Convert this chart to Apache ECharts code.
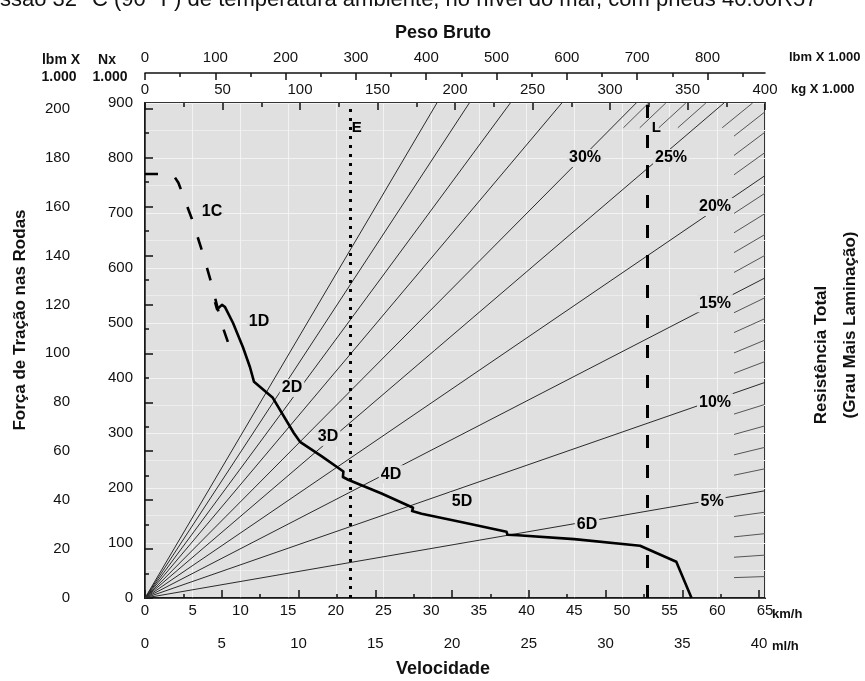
<!DOCTYPE html>
<html><head><meta charset="utf-8">
<script src="https://cdn.jsdelivr.net/npm/echarts@6/dist/echarts.min.js"></script>
<style>html,body{margin:0;padding:0;background:#fff}#c{width:865px;height:681px}</style>
</head><body><div id="c"></div>
<script>
// ---------- axis ticks ----------
const kmhMin = 0, kmhMax = 65, kmhStep = 5;
const mphMajor = [0,5,10,15,20,25,30,35,40];
const mphMinor = [2.5,7.5,12.5,17.5,22.5,27.5,32.5,37.5];
const kgMin = 0, kgMax = 400, kgStep = 50;
const lbmMajor = [0,100,200,300,400,500,600,700,800];
const lbmMinor = [50,150,250,350,450,550,650,750,850];
const nxMin = 0, nxMax = 900, nxStep = 100;
const lbfMajor = [0,20,40,60,80,100,120,140,160,180,200];
const lbfMinor = [10,30,50,70,90,110,130,150,170,190];

// ---------- rimpull curve (km/h, kN) ----------
const rimpullKmh = [7.34, 7.55, 8.07, 8.39, 9.23, 10.27, 11.0, 11.43, 13.4, 15.6, 16.25, 18.5, 20.8, 20.75, 21.3, 24.8, 28.1, 28.0, 29.0, 33.5, 37.9, 38.0, 39.1, 45.0, 51.9, 55.7, 57.3];
const rimpullKN  = [538, 525, 533, 529, 500, 456, 420, 393, 364, 300, 284, 258, 230, 220, 215, 190, 164, 158, 153, 137, 120.5, 115, 114, 107, 95, 66, 0];
// converter drive 1C (dashed)
const conv1Kmh = [0, 2.9, 3.5, 4.9, 6.0, 7.0, 8.0, 8.7];
const conv1KN  = [771, 771, 755, 690, 630, 570, 500, 465];

// ---------- total resistance (grade) lines: exit point of each line ----------
const gradeNames   = ['5%','10%','15%','20%','25%','30%','35%','40%','45%','50%'];
const gradeExitKmh = [65, 65, 65, 65, 60.7, 51.5, 43.7, 38.3, 34.0, 30.6];
const gradeExitKN  = [195, 392, 582, 768, 900, 900, 900, 900, 900, 900];
const gradeLabelNames = ['5%','10%','15%','20%','25%','30%'];
const gradeLabelKmh = [59.45, 59.76, 59.76, 59.76, 55.15, 46.13];
const gradeLabelKN  = [176, 356, 536, 711, 800, 800];

// short 1% hatch marks at the plot edge (exit points)
const hatchExitKmh = [65,65,65,65, 65,65,65,65, 65,65,65,65, 65,65,65,65, 65,65,65, 63.7, 58.8, 56.7, 54.6, 52.8];
const hatchExitKN  = [39,78,117,156, 235,274,313,352, 430,469,508,546, 623,661,699,736, 810,847,884, 900, 900, 900, 900, 900];

// ---------- reference lines ----------
const refNames = ['E','L'];
const refKmh = [21.5, 52.7];
const refLabelKmh = [22.2, 53.6];
const refLabelKN = [855, 855];

// ---------- gear labels ----------
const gearNames = ['1C','1D','2D','3D','4D','5D','6D'];
const gearLabelKmh = [7.02, 11.95, 15.41, 19.19, 25.79, 33.24, 46.34];
const gearLabelKN  = [702, 502, 382, 293, 225, 176, 133];

// ---------- build ----------
const FONT = '"Liberation Sans Narrow","Liberation Sans",Arial,sans-serif';
const BFONT = '"Liberation Sans",Arial,sans-serif';
const BG = '#e0e0e0';
const INK = '#111';
const tickLbl = {fontSize: 15, color: INK, fontFamily: FONT};

const zip = (a, b) => a.map((v, i) => [v, b[i]]);

const gradeLines = gradeExitKmh.map((x, i) => ({coords: [[0, 0], [x, gradeExitKN[i]]]}));
const hatchLines = hatchExitKmh.map((x, i) => ({coords: [[x * 0.95, hatchExitKN[i] * 0.95], [x, hatchExitKN[i]]]}));
const refLines = refKmh.map(x => ({coords: [[x, 0], [x, nxMax]]}));

const labelStyle = (size, bg) => ({
  show: true, position: 'inside', formatter: p => p.data[2],
  fontFamily: BFONT, fontWeight: 'bold', fontSize: size, color: '#000',
  backgroundColor: bg, padding: [1, 2]
});

const chart = echarts.init(document.getElementById('c'), null, {renderer: 'canvas'});
chart.setOption({
  animation: false,
  backgroundColor: '#fff',
  grid: {left: 145, right: 100, top: 103, bottom: 83, show: true, backgroundColor: BG, borderColor: '#333', borderWidth: 2},
  xAxis: [
    {type: 'value', position: 'bottom', min: kmhMin, max: kmhMax, interval: kmhStep,
     axisLine: {show: false}, axisTick: {show: false},
     axisLabel: Object.assign({margin: 5}, tickLbl),
     splitLine: {show: true, lineStyle: {color: '#f3f3f3', width: 1}}},
    {type: 'value', position: 'bottom', offset: 33, min: 0, max: kmhMax / 1.609344,
     axisLine: {show: true, lineStyle: {color: INK, width: 1.5}},
     axisTick: {show: true, inside: true, length: 8, customValues: mphMajor, lineStyle: {color: INK, width: 1.5}},
     axisLabel: Object.assign({margin: 5, customValues: mphMajor}, tickLbl), splitLine: {show: false}},
    {type: 'value', position: 'bottom', offset: 33, min: 0, max: kmhMax / 1.609344,
     axisLine: {show: false},
     axisTick: {show: true, inside: true, length: 4, customValues: mphMinor, lineStyle: {color: INK, width: 1.5}},
     axisLabel: {show: false}, splitLine: {show: false}},
    {type: 'value', position: 'top', offset: 0, min: kgMin, max: kgMax, interval: kgStep,
     axisLine: {show: false},
     axisTick: {show: true, inside: true, length: 7, lineStyle: {color: INK, width: 1.5}},
     minorTick: {show: true, splitNumber: 2, length: 4, lineStyle: {color: INK, width: 1.5}},
     axisLabel: Object.assign({margin: 6}, tickLbl), splitLine: {show: false}},
    {type: 'value', position: 'top', offset: 30, min: 0, max: kgMax * 2.20462,
     axisLine: {show: true, lineStyle: {color: INK, width: 1.5}},
     axisTick: {show: true, inside: true, length: 7, customValues: lbmMajor, lineStyle: {color: INK, width: 1.5}},
     axisLabel: Object.assign({margin: 8, customValues: lbmMajor}, tickLbl), splitLine: {show: false}},
    {type: 'value', position: 'top', offset: 30, min: 0, max: kgMax * 2.20462,
     axisLine: {show: false},
     axisTick: {show: true, inside: true, length: 4, customValues: lbmMinor, lineStyle: {color: INK, width: 1.5}},
     axisLabel: {show: false}, splitLine: {show: false}}
  ],
  yAxis: [
    {type: 'value', position: 'left', min: nxMin, max: nxMax, interval: nxStep,
     axisLine: {show: false}, axisTick: {show: false},
     minorTick: {show: false, splitNumber: 2},
     axisLabel: Object.assign({margin: 12}, tickLbl),
     splitLine: {show: true, lineStyle: {color: '#f3f3f3', width: 1}},
     minorSplitLine: {show: true, lineStyle: {color: '#ececec', width: 1}}},
    {type: 'value', position: 'left', offset: 63, min: 0, max: nxMax / 4.44822,
     axisLine: {show: true, lineStyle: {color: INK, width: 1.5}},
     axisTick: {show: true, inside: true, length: 8, customValues: lbfMajor, lineStyle: {color: INK, width: 1.5}},
     axisLabel: Object.assign({margin: 12, customValues: lbfMajor}, tickLbl), splitLine: {show: false}},
    {type: 'value', position: 'left', offset: 63, min: 0, max: nxMax / 4.44822,
     axisLine: {show: false},
     axisTick: {show: true, inside: true, length: 4, customValues: lbfMinor, lineStyle: {color: INK, width: 1.5}},
     axisLabel: {show: false}, splitLine: {show: false}}
  ],
  series: [
    {type: 'lines', coordinateSystem: 'cartesian2d', xAxisIndex: 0, yAxisIndex: 0, z: 2, silent: true,
     lineStyle: {color: '#2a2a2a', width: 1, opacity: 1}, data: gradeLines},
    {type: 'lines', coordinateSystem: 'cartesian2d', xAxisIndex: 0, yAxisIndex: 0, z: 2, silent: true,
     lineStyle: {color: '#555', width: 1, opacity: 1}, data: hatchLines},
    {type: 'line', xAxisIndex: 0, yAxisIndex: 0, z: 5, symbol: 'none', silent: true,
     lineStyle: {color: '#000', width: 2.6, join: 'round'}, data: zip(rimpullKmh, rimpullKN)},
    {type: 'line', xAxisIndex: 0, yAxisIndex: 0, z: 5, symbol: 'none', silent: true,
     lineStyle: {color: '#000', width: 2.6, type: [13, 19], cap: 'butt'}, data: zip(conv1Kmh, conv1KN)},
    {type: 'lines', coordinateSystem: 'cartesian2d', xAxisIndex: 0, yAxisIndex: 0, z: 6, silent: true,
     lineStyle: {color: '#000', width: 3, type: [3, 6], opacity: 1}, data: [refLines[0]]},
    {type: 'lines', coordinateSystem: 'cartesian2d', xAxisIndex: 0, yAxisIndex: 0, z: 6, silent: true,
     lineStyle: {color: '#000', width: 3, type: [13, 17], opacity: 1}, data: [refLines[1]]},
    {type: 'scatter', xAxisIndex: 0, yAxisIndex: 0, z: 4, symbolSize: 0, silent: true, itemStyle: {opacity: 1},
     label: labelStyle(16, BG), data: gradeLabelKmh.map((x, i) => [x, gradeLabelKN[i], gradeLabelNames[i]])},
    {type: 'scatter', xAxisIndex: 0, yAxisIndex: 0, z: 4, symbolSize: 0, silent: true, itemStyle: {opacity: 1},
     label: labelStyle(16, BG), data: gearLabelKmh.map((x, i) => [x, gearLabelKN[i], gearNames[i]])},
    {type: 'scatter', xAxisIndex: 0, yAxisIndex: 0, z: 7, symbolSize: 0, silent: true, itemStyle: {opacity: 1},
     label: labelStyle(15, 'transparent'), data: refLabelKmh.map((x, i) => [x, refLabelKN[i], refNames[i]])}
  ],
  graphic: [
    {type: 'text', x: 0, y: 11, style: {text: 'ssão 32° C (90° F) de temperatura ambiente, no nível do mar, com pneus 40.00R57', font: '22px ' + BFONT, fill: INK, verticalAlign: 'bottom'}},
    {type: 'text', x: 443, y: 33, style: {text: 'Peso Bruto', font: 'bold 18px ' + BFONT, fill: INK, align: 'center', verticalAlign: 'middle'}},
    {type: 'text', x: 443, y: 669, style: {text: 'Velocidade', font: 'bold 18px ' + BFONT, fill: INK, align: 'center', verticalAlign: 'middle'}},
    {type: 'text', x: 61, y: 60, style: {text: 'lbm X', font: 'bold 14px ' + BFONT, fill: INK, align: 'center', verticalAlign: 'middle'}},
    {type: 'text', x: 59, y: 77, style: {text: '1.000', font: 'bold 14px ' + BFONT, fill: INK, align: 'center', verticalAlign: 'middle'}},
    {type: 'text', x: 107, y: 60, style: {text: 'Nx', font: 'bold 14px ' + BFONT, fill: INK, align: 'center', verticalAlign: 'middle'}},
    {type: 'text', x: 110, y: 77, style: {text: '1.000', font: 'bold 14px ' + BFONT, fill: INK, align: 'center', verticalAlign: 'middle'}},
    {type: 'text', x: 789, y: 57, style: {text: 'lbm X 1.000', font: 'bold 13px ' + BFONT, fill: INK, align: 'left', verticalAlign: 'middle'}},
    {type: 'text', x: 791, y: 89, style: {text: 'kg X 1.000', font: 'bold 13px ' + BFONT, fill: INK, align: 'left', verticalAlign: 'middle'}},
    {type: 'text', x: 772, y: 614, style: {text: 'km/h', font: 'bold 13px ' + BFONT, fill: INK, align: 'left', verticalAlign: 'middle'}},
    {type: 'text', x: 772, y: 646, style: {text: 'ml/h', font: 'bold 13px ' + BFONT, fill: INK, align: 'left', verticalAlign: 'middle'}},
    {type: 'text', x: 20, y: 320, rotation: Math.PI / 2, style: {text: 'Força de Tração nas Rodas', font: 'bold 17px ' + BFONT, fill: INK, align: 'center', verticalAlign: 'middle'}},
    {type: 'text', x: 821, y: 355, rotation: Math.PI / 2, style: {text: 'Resistência Total', font: 'bold 17px ' + BFONT, fill: INK, align: 'center', verticalAlign: 'middle'}},
    {type: 'text', x: 850, y: 325, rotation: Math.PI / 2, style: {text: '(Grau Mais Laminação)', font: 'bold 17px ' + BFONT, fill: INK, align: 'center', verticalAlign: 'middle'}}
  ]
});
</script></body></html>
